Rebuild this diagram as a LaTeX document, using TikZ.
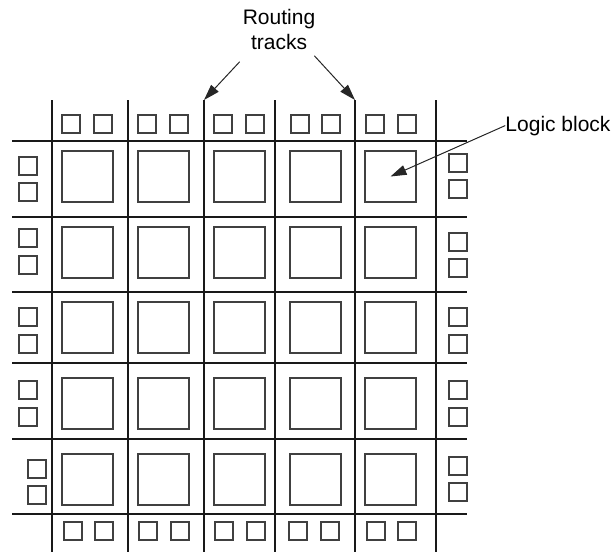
\documentclass[tikz,border=0pt]{standalone}
\usepackage{fontspec}
\setmainfont{Liberation Sans}
\usetikzlibrary{arrows.meta}

\begin{document}
\begin{tikzpicture}[
  x=1pt, y=-1pt,
  font=\fontsize{21}{25}\selectfont,
  track/.style={line width=1.1pt, draw=black!90},
  lblock/.style={draw=black!75, line width=1.6pt, minimum size=51pt, inner sep=0pt},
  iopad/.style={draw=black!75, line width=1.6pt, minimum size=18pt, inner sep=0pt},
  note/.style={align=center, inner sep=0pt},
  arrow/.style={-{Triangle[length=16pt,width=10pt]}, line width=1pt, draw=black!85}
]
\useasboundingbox (0,0) rectangle (612,552);

\foreach \x [count=\i] in {52,128,204,275,355,436}
  \draw[track] (\x,100) coordinate (v\i) -- (\x,552);
\foreach \y [count=\i] in {141,217,292,363,439,514}
  \draw[track] (12,\y) coordinate (h\i) -- (467,\y);

\foreach \y [count=\r] in {151,227,302,378,454}
  \foreach \x [count=\c] in {62,138,214,290,365}
    \node[lblock] (b\r\c) at (\x+25.5,\y+25.5) {};

\foreach \x [count=\i] in {62,94,138,170,214,246,291,322,366,398}
  \node[iopad] (top\i) at (\x+9,124) {};
\foreach \x [count=\i] in {64,95,139,171,215,247,289,321,367,398}
  \node[iopad] (bot\i) at (\x+9,531) {};
\foreach \x/\y [count=\i] in {19/157,19/183,19/229,19/256,19/308,19/335,19/381,19/408,28/460,28/486}
  \node[iopad] (left\i) at (\x+9,\y+9) {};
\foreach \y [count=\i] in {154,180,233,259,308,335,381,408,457,483}
  \node[iopad] (right\i) at (458,\y+9) {};

\node[note, anchor=north] (rt) at (279,9) {Routing\\tracks};
\node[note, anchor=base] (lb) at (558,131) {Logic block};

\draw[arrow] ([xshift=-3pt,yshift=-12pt]rt.south west) -- (v3);
\draw[arrow] ([xshift=-1pt,yshift=-6pt]rt.south east) -- (v5);
\draw[arrow] (lb.west) -- (b15.center);

\end{tikzpicture}
\end{document}
